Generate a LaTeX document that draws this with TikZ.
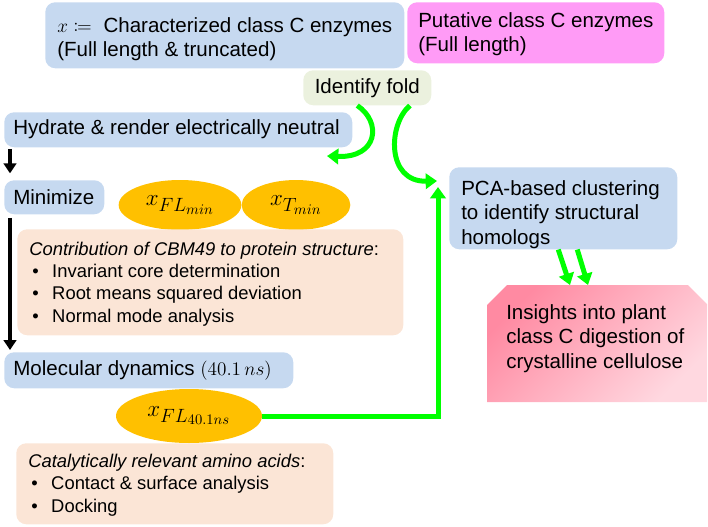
\documentclass[tikz,border=0pt]{standalone}
\usepackage[no-math]{fontspec}
\setmainfont{Liberation Sans}
\usepackage{mathtools}
\usetikzlibrary{arrows.meta,shapes.geometric}
\DeclareMathSizes{15.4}{15.4}{11.2}{9.2}
\DeclareMathSizes{19}{19}{13.9}{11.4}

\definecolor{boxblue}{HTML}{C6D9F0}
\definecolor{boxpink}{HTML}{FF9BF6}
\definecolor{boxfold}{HTML}{EBF1DE}
\definecolor{boxbeige}{HTML}{FBE5D6}
\definecolor{ellgold}{HTML}{FFC000}
\definecolor{arrgreen}{HTML}{00FF00}
\definecolor{insA}{HTML}{FF8AA2}
\definecolor{insB}{HTML}{FFD8E0}

\begin{document}
\begin{tikzpicture}[x=0.75pt,y=-0.75pt,
  bigfont/.style={font=\fontsize{15.4}{18.4}\selectfont},
  smallfont/.style={font=\fontsize{13.8}{16.8}\selectfont},
  mathfont/.style={font=\fontsize{19}{21}\selectfont},
  box/.style={rounded corners=7.5pt, anchor=north west, inner sep=0pt},
  txt/.style={anchor=west, align=left, inner sep=0pt},
  ell/.style={ellipse, fill=ellgold, inner sep=0pt, mathfont},
  grn/.style={draw=arrgreen, line width=3.75pt, -{Triangle[length=8.5pt,width=11.5pt]}},
  blk/.style={draw=black, line width=2.6pt, -{Triangle[length=7.5pt,width=9.5pt]}}
]
\useasboundingbox (0,0) rectangle (708,526);

% ellipses (drawn below the boxes)
\node[ell, minimum width=92pt, minimum height=37.5pt] (e1) at (180,205) {$x_{FL_{min}}$};
\node[ell, minimum width=81.5pt, minimum height=37.5pt] (e2) at (296,205) {$x_{T_{min}}$};
\node[ell, minimum width=109.5pt, minimum height=40.5pt] (e3) at (189,416) {$x_{FL_{40.1ns}}$};

% boxes
\node[box, fill=boxblue, minimum width=269.25pt, minimum height=49.5pt] (top) at (45,2) {};
\node[txt, bigfont] (topT) at (57,39) {$x \coloneqq$\hspace{4.5pt} Characterized class C enzymes\\(Full length \& truncated)};

\node[box, fill=boxpink, minimum width=192.75pt, minimum height=45.75pt] (puta) at (407,2) {};
\node[txt, bigfont] (putaT) at (418,34) {Putative class C enzymes\\(Full length)};

\node[box, fill=boxfold, minimum width=96pt, minimum height=26.25pt] (fold) at (303,70) {};
\node[bigfont, inner sep=0pt] (foldT) at (fold.center) {Identify fold};

\node[box, fill=boxblue, minimum width=261pt, minimum height=26.25pt] (hyd) at (4,112) {};
\node[txt, bigfont] (hydT) at (13,129.5) {Hydrate \& render electrically neutral};

\node[box, fill=boxblue, minimum width=75pt, minimum height=25.5pt] (mini) at (4,180) {};
\node[txt, bigfont] (miniT) at (13,197) {Minimize};

\node[box, fill=boxbeige, minimum width=289.5pt, minimum height=79.5pt] (b1) at (17,229) {};
\node[txt, smallfont] (b1T) at (29,284)
  {\textit{Contribution of CBM49 to protein structure}:\\
   \hspace*{2.25pt}\makebox[15pt][l]{•}Invariant core determination\\
   \hspace*{2.25pt}\makebox[15pt][l]{•}Root means squared deviation\\
   \hspace*{2.25pt}\makebox[15pt][l]{•}Normal mode analysis};

\node[box, fill=boxblue, minimum width=216.75pt, minimum height=27pt] (md) at (4,352) {};
\node[txt, bigfont] (mdT) at (13,370) {Molecular dynamics $(40.1\,ns)$};

\node[box, fill=boxbeige, minimum width=237.75pt, minimum height=60.75pt] (b2) at (16,443) {};
\node[txt, smallfont] (b2T) at (28,485)
  {\textit{Catalytically relevant amino acids}:\\
   \hspace*{2.25pt}\makebox[15pt][l]{•}Contact \& surface analysis\\
   \hspace*{2.25pt}\makebox[15pt][l]{•}Docking};

\node[box, fill=boxblue, minimum width=171pt, minimum height=61.5pt] (pca) at (449,167) {};
\node[txt, bigfont] (pcaT) at (461,214.5) {PCA-based clustering\\to identify structural\\homologs};

% insights box
\shade[left color=insA, right color=insB, shading angle=45]
  (487,305) -- (507,285) -- (688,285) -- (707,304) -- (707,402) -- (487,402) -- cycle;
\node[txt, bigfont] (ins) at (506,338.5)
  {Insights into plant\\class C digestion of\\crystalline cellulose};

% free-end coordinates
\coordinate (aTip) at (327,156);
\coordinate (bTip) at (437,181);
\coordinate (gTop) at (438,187);
\coordinate (insTop) at (580,285);

% black arrows
\draw[blk] ([xshift=4.5pt,yshift=-1pt]hyd.south west) -- ([xshift=4.5pt,yshift=5pt]mini.north west);
\draw[blk] ([xshift=4.5pt,yshift=-2.5pt]mini.south west) -- ([xshift=4.5pt,yshift=1.5pt]md.north west);

% green arrows
\draw[grn] ([xshift=-7.5pt]fold.south) .. controls (382,122) and (378,158) .. (aTip);
\draw[grn] ([xshift=32pt]fold.south) .. controls (388,124) and (386,182) .. (bTip);
\draw[grn] (e3.east) -| (gTop);
\draw[grn] ([xshift=-3.75pt]pca.south) -- ([xshift=-7.5pt]insTop);
\draw[grn] ([xshift=10.5pt]pca.south) -- ([xshift=6pt]insTop);
\end{tikzpicture}
\end{document}
